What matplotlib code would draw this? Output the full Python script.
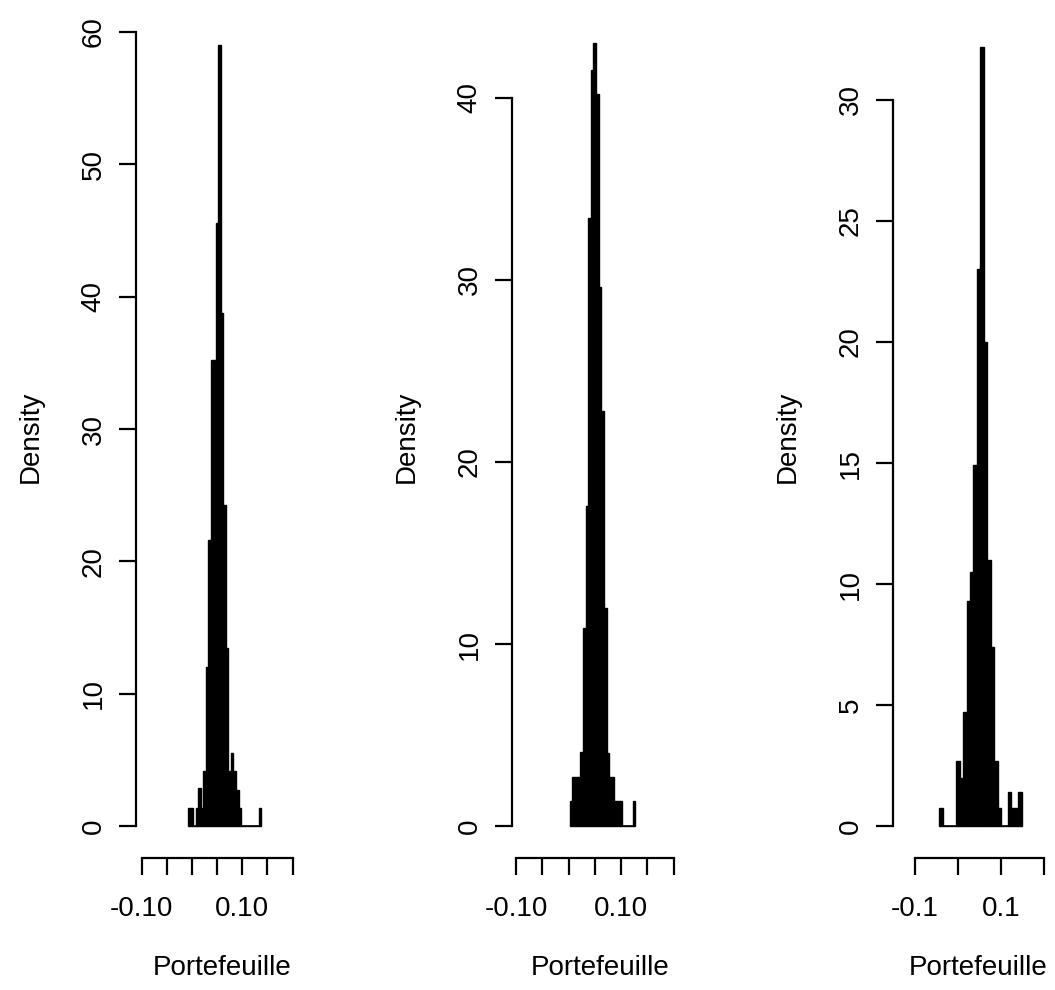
import matplotlib
matplotlib.use("Agg")
import matplotlib.pyplot as plt
import numpy as np

plt.rcParams['font.family'] = ['Liberation Sans', 'DejaVu Sans']

# ---------------- data ----------------
# Panel 1
p1_start = -0.0075
p1_width = 0.005
p1_heights = [1.36, 1.36, 0, 1.36, 2.9, 1.36, 4.2, 12.0, 21.6, 35.2, 35.2, 45.6,
              59.0, 38.8, 24.3, 13.5, 4.2, 5.5, 4.2, 2.7, 1.36,
              0, 0, 0, 0, 0, 0, 0, 1.36]
p1_yticks = [0, 10, 20, 30, 40, 50, 60]
p1_xticks = [-0.10, -0.05, 0.0, 0.05, 0.10, 0.15, 0.20]
p1_xlabels = ["-0.10", "", "", "", "0.10", "", ""]

# Panel 2
p2_start = 0.0025
p2_width = 0.005
p2_heights = [1.4, 2.7, 2.7, 2.7, 4.1, 10.9, 17.6, 33.4, 41.5, 43.0, 40.2, 29.6,
              22.8, 12.0, 4.0, 2.7, 2.7, 1.4, 1.4, 1.4, 0, 0, 0, 0, 1.4]
p2_yticks = [0, 10, 20, 30, 40]
p2_xticks = [-0.10, -0.05, 0.0, 0.05, 0.10, 0.15, 0.20]
p2_xlabels = ["-0.10", "", "", "", "0.10", "", ""]

# Panel 3
p3_start = -0.044
p3_width = 0.008
p3_heights = [0.74, 0, 0, 0, 0, 2.7, 2.0, 4.7, 9.3, 10.5, 14.9, 23.0, 32.2,
              20.0, 11.0, 7.4, 2.7, 0.74, 0, 0, 1.4, 0.74, 0.74, 1.4]
p3_yticks = [0, 5, 10, 15, 20, 25, 30]
p3_xticks = [-0.1, 0.0, 0.1, 0.2]
p3_xlabels = ["-0.1", "", "0.1", ""]

xlabel = "Portefeuille"
ylabel = "Density"

# ---------------- layout (pixels) ----------------
W, H = 1055, 990
panels = [
    dict(start=p1_start, width=p1_width, heights=p1_heights, yticks=p1_yticks,
         xticks=p1_xticks, xlabels=p1_xlabels, ymax=60.0,
         px_left=136, px_right=308, x0px=192, xscale=503),
    dict(start=p2_start, width=p2_width, heights=p2_heights, yticks=p2_yticks,
         xticks=p2_xticks, xlabels=p2_xlabels, ymax=43.6,
         px_left=512, px_right=688, x0px=568.5, xscale=525),
    dict(start=p3_start, width=p3_width, heights=p3_heights, yticks=p3_yticks,
         xticks=p3_xticks, xlabels=p3_xlabels, ymax=32.8,
         px_left=893, px_right=1063, x0px=958, xscale=430),
]
top_px, bottom_px = 0.25, 858

fig = plt.figure(figsize=(W / 100, H / 100), dpi=100)
fs = 20

for p in panels:
    left = p['px_left'] / W
    width = (p['px_right'] - p['px_left']) / W
    bottom = 1 - bottom_px / H
    height = (bottom_px - top_px) / H
    ax = fig.add_axes([left, bottom, width, height])

    heights = np.array(p['heights'], dtype=float)
    edges = p['start'] + p['width'] * np.arange(len(heights) + 1)
    ax.bar(edges[:-1], heights, width=p['width'], align='edge',
           color='black', edgecolor='black', linewidth=1.0)
    # bottom edges of all histogram rectangles (visible where a bin is empty)
    ax.hlines(0, edges[0], edges[-1], color='black', linewidth=1.2)

    xmin = (p['px_left'] - p['x0px']) / p['xscale']
    xmax = (p['px_right'] - p['x0px']) / p['xscale']
    ax.set_xlim(xmin, xmax)
    ym = p['ymax']
    ax.set_ylim(-0.04 * ym, 1.04 * ym)

    for s in ['top', 'right']:
        ax.spines[s].set_visible(False)
    ax.spines['left'].set_bounds(p['yticks'][0], p['yticks'][-1])
    ax.spines['bottom'].set_bounds(p['xticks'][0], p['xticks'][-1])
    for s in ['left', 'bottom']:
        ax.spines[s].set_linewidth(1.6)

    ax.set_yticks(p['yticks'])
    ax.set_yticklabels([str(v) for v in p['yticks']], rotation=90, va='center',
                       fontsize=fs)
    ax.set_xticks(p['xticks'])
    ax.set_xticklabels(p['xlabels'], fontsize=fs)
    ax.tick_params(axis='both', direction='out', length=12, width=1.6,
                   color='black')
    ax.tick_params(axis='y', pad=9)
    ax.tick_params(axis='x', pad=15)

    ax.set_xlabel(xlabel, fontsize=fs)
    ax.set_ylabel(ylabel, fontsize=fs)
    axw = p['px_right'] - p['px_left']
    axh = bottom_px - top_px
    ax.xaxis.set_label_coords(0.5, -(968 - bottom_px) / axh)
    ax.yaxis.set_label_coords(-(105) / axw, (bottom_px - 437) / axh)
    ax.xaxis.label.set_va('center')
    ax.yaxis.label.set_va('center')
    ax.patch.set_alpha(0)

fig.savefig("out.png", dpi=100, facecolor='white')
